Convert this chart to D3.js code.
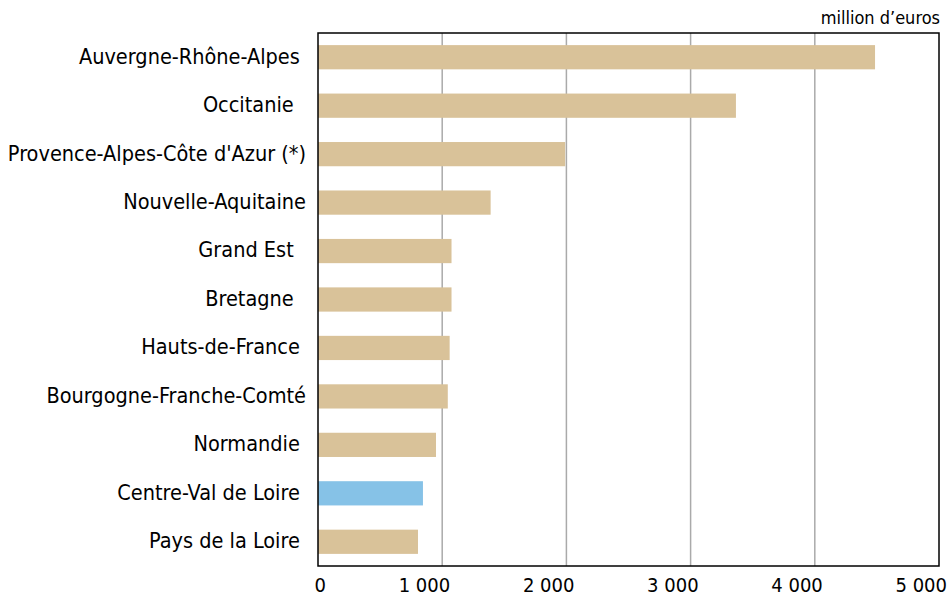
<!DOCTYPE html>
<html>
<head>
<meta charset="utf-8">
<script src="https://cdn.jsdelivr.net/npm/d3@7"></script>
<style>
  html, body { margin: 0; padding: 0; background: #fff; }
  svg { display: block; }
  text { font-family: "DejaVu Sans Condensed", "DejaVu Sans", sans-serif; fill: #000; }
  .cat { white-space: pre; }
</style>
</head>
<body>
<svg id="chart" width="952" height="596"></svg>
<script>
// Regions, ordered from largest to smallest amount
const regions = [
  "Auvergne-Rhône-Alpes ",
  "Occitanie  ",
  "Provence-Alpes-Côte d'Azur (*)",
  "Nouvelle-Aquitaine",
  "Grand Est  ",
  "Bretagne  ",
  "Hauts-de-France ",
  "Bourgogne-Franche-Comté",
  "Normandie ",
  "Centre-Val de Loire ",
  "Pays de la Loire "
];
// Amounts in million euros
const amounts = [4485, 3365, 1990, 1390, 1075, 1075, 1060, 1045, 950, 845, 805];
const highlighted = "Centre-Val de Loire";
const xTicks = [0, 1000, 2000, 3000, 4000, 5000];
const unitLabel = "million d\u2019euros";

const svg = d3.select("#chart");
const margin = { left: 318, right: 13, top: 33, bottom: 30 };
const W = 952, H = 596;
const plotW = W - margin.left - margin.right;
const plotH = H - margin.top - margin.bottom;

const x = d3.scaleLinear().domain([0, 5000]).range([margin.left, margin.left + plotW]);
const y = d3.scaleBand().domain(regions).range([margin.top, margin.top + plotH])
  .paddingInner(0.5).paddingOuter(0.25);

// Vertical gridlines
svg.append("g").selectAll("line").data(xTicks.slice(1, -1)).join("line")
  .attr("x1", d => x(d)).attr("x2", d => x(d))
  .attr("y1", margin.top).attr("y2", margin.top + plotH)
  .attr("stroke", "#aaaaaa").attr("stroke-width", 1.5);

// Bars
svg.append("g").selectAll("rect").data(regions).join("rect")
  .attr("x", x(0))
  .attr("y", d => y(d))
  .attr("width", (d, i) => x(amounts[i]) - x(0))
  .attr("height", y.bandwidth())
  .attr("fill", d => d.trim() === highlighted ? "#86c2e7" : "#d9c299");

// Frame
svg.append("rect")
  .attr("x", margin.left).attr("y", margin.top)
  .attr("width", plotW).attr("height", plotH)
  .attr("fill", "none").attr("stroke", "#000").attr("stroke-width", 1.5);

// Category labels
svg.append("g").selectAll("text").data(regions).join("text")
  .attr("class", "cat")
  .attr("x", 306)
  .attr("y", d => y(d) + y.bandwidth() / 2)
  .attr("dy", "0.3em")
  .attr("text-anchor", "end")
  .attr("font-size", 21.5)
  .text(d => d);

// X axis labels, right-aligned just past each tick
svg.append("g").selectAll("text").data(xTicks).join("text")
  .attr("x", d => x(d) + 8)
  .attr("y", 592)
  .attr("text-anchor", "end")
  .attr("font-size", 20)
  .text(d => d3.format(",")(d).replace(/,/g, " "));

// Unit
svg.append("text")
  .attr("x", 940).attr("y", 24)
  .attr("text-anchor", "end")
  .attr("font-size", 18)
  .text(unitLabel);
</script>
</body>
</html>
